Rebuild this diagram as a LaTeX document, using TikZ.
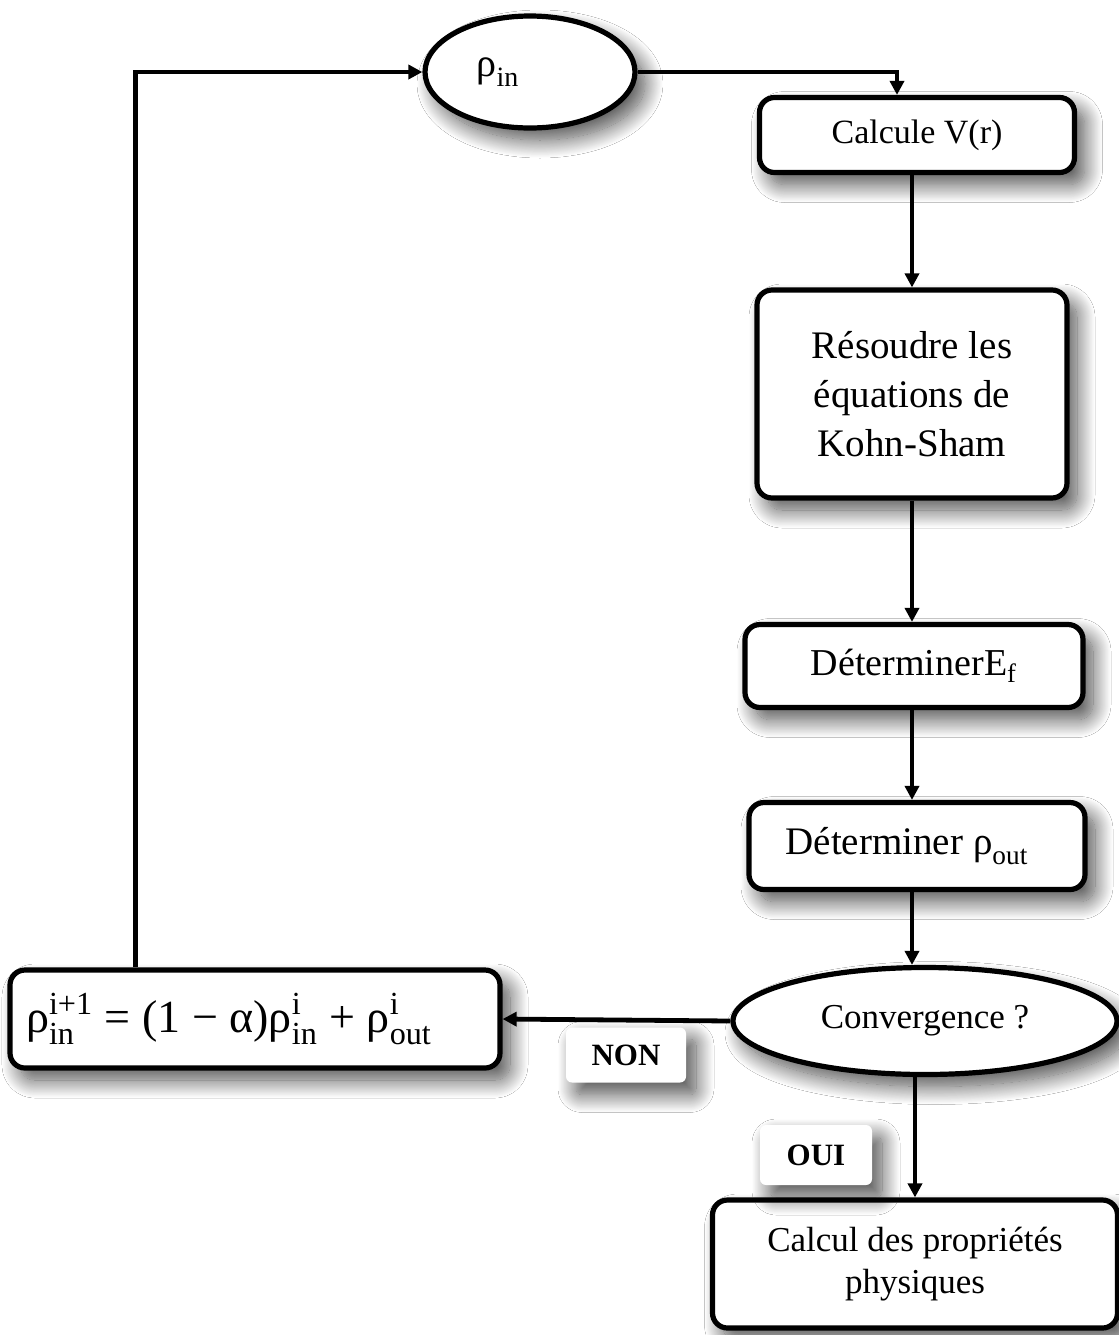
\documentclass[tikz,border=0pt]{standalone}
\usepackage{amsmath}
\usepackage{fontspec}
\setmainfont{Liberation Serif}
\usetikzlibrary{shapes.geometric,arrows.meta,shadows.blur}
\newcommand\fsz[1]{\fontsize{#1}{1.3\dimexpr#1\relax}\selectfont}
\newcommand\rh[2]{$\text{ρ}^{\text{#1}}_{\text{#2}}$}
\begin{document}
\begin{tikzpicture}[x=0.5pt,y=-0.5pt,
  shad/.style={blur shadow={shadow xshift=5pt,shadow yshift=-6pt,shadow blur radius=9pt,shadow blur steps=24,shadow opacity=70}},
  boxr/.style={draw=black,line width=2.6pt,rounded corners=7.5pt,fill=white,shad,align=center,inner sep=2pt},
  ell/.style={ellipse,draw=black,line width=2.6pt,fill=white,shad,inner sep=0pt},
  lab/.style={fill=white,rounded corners=3pt,shad,font=\fsz{15.5pt}\bfseries,inner sep=0pt},
  arr/.style={line width=2.4pt,-{Triangle[length=7pt,width=7pt]}}]
\useasboundingbox[fill=white] (0,0) rectangle (1119,1335);

\node[ell,minimum width=105pt,minimum height=56pt,font=\fsz{20pt}] (rin) at (530,72) {\rh{}{in}\hspace*{32pt}};
\node[boxr,minimum width=157.5pt,minimum height=37.5pt,font=\fsz{17pt}] (cv) at (917,135) {Calcule V(r)};
\node[boxr,minimum width=155pt,minimum height=104pt,font=\fsz{19.5pt}] (ks) at (912,394) {Résoudre les\\[-1pt] équations de\\[-1pt] Kohn-Sham};
\node[boxr,minimum width=169pt,minimum height=41.5pt,font=\fsz{19pt}] (ef) at (914,666) {Déterminer$\text{E}_{\text{f}}$};
\node[boxr,minimum width=168pt,minimum height=43.5pt,font=\fsz{19.5pt}] (ro) at (917,846) {Déterminer \rh{}{out}\hspace*{10pt}};
\node[ell,minimum width=192pt,minimum height=53.5pt,font=\fsz{17.5pt}] (conv) at (925,1021) {Convergence ?};
\node[boxr,minimum width=245pt,minimum height=49pt,font=\fsz{23pt}] (eq) at (255,1019) {\rh{i+1}{in} = (1 − α)\rh{i}{in} + \rh{i}{out}\hspace*{26pt}};
\node[boxr,minimum width=202.5pt,minimum height=64pt,font=\fsz{17.5pt}] (cp) at (915,1264) {Calcul des propriétés\\[-2pt] physiques};
\node[lab,minimum width=60pt,minimum height=27.5pt] (non) at (626,1055) {NON};
\node[lab,minimum width=56pt,minimum height=30pt] (oui) at (816,1155) {OUI};

\draw[arr] (rin.east) -| ([xshift=-10pt]cv.north);
\draw[arr] (ks.north |- cv.south) -- (ks.north);
\draw[arr] (ks.south) -- (ks.south |- ef.north);
\draw[arr] (ks.south |- ef.south) -- (ks.south |- ro.north);
\draw[arr] (ks.south |- ro.south) -- (ks.south |- conv.north);
\draw[arr] (conv.west) -- (eq.east);
\draw[arr] ([xshift=64pt]eq.north west) |- (rin.west);
\draw[arr] (cp.north |- conv.south) -- (cp.north);
\end{tikzpicture}
\end{document}
